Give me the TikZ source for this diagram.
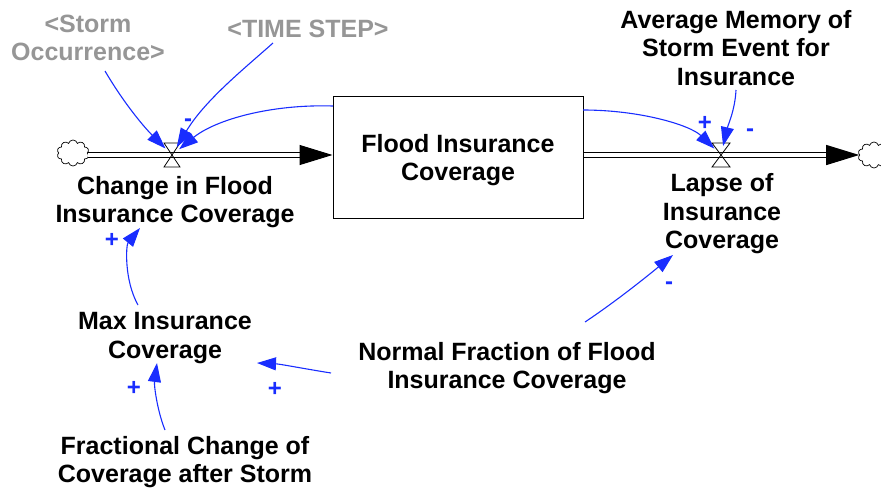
\documentclass[tikz,border=0pt]{standalone}
\usepackage{fontspec}
\setmainfont{Liberation Sans}
\usetikzlibrary{arrows.meta,shapes.symbols}
\definecolor{lnk}{RGB}{25,45,255}
\definecolor{ghost}{RGB}{150,150,150}
\begin{document}
\begin{tikzpicture}[x=1pt,y=-1pt,
  lbl/.style={font=\bfseries\fontsize{25}{28.5}\selectfont, align=center, inner sep=0pt},
  ghostlbl/.style={lbl, text=ghost},
  link/.style={draw=lnk, line width=1.1pt, -{Triangle[length=19pt,width=13pt]}},
  pol/.style={text=lnk, font=\bfseries\fontsize{24}{24}\selectfont, inner sep=0pt},
  pipe/.style={draw, line width=1.1pt, double=white, double distance=4pt},
  pipetip/.style={-{Triangle[length=33pt,width=20pt]}},
  valvept/.style={circle, minimum size=18pt, inner sep=0pt},
  valveshape/.style={draw, line width=0.8pt},
  cloudy/.style={cloud, cloud puffs=10, aspect=1.3, minimum width=32pt, minimum height=26pt, draw, line width=0.7pt, inner sep=0pt}
]
\useasboundingbox (0,0) rectangle (881,491);

% stock
\node[lbl, draw, line width=1pt, minimum width=250pt, minimum height=122pt] (stock) at (458,157) {};
\node[lbl] (stocktext) at (458,160) {Flood Insurance\\Coverage};

% valves and clouds
\node[valvept] (v1) at (172,155) {};
\node[valvept] (v2) at (721,155) {};
\node[cloudy] (cloudL) at (73,153) {};
\node[cloudy] (cloudR) at (874,155) {};

% flows
\draw[pipe, pipetip] (cloudL.east |- v1) -- (stock.west |- v1);
\draw[pipe, pipetip] (stock.east |- v2) -- (cloudR.west |- v2);
\draw[valveshape] (v1) +(-8,-12) -- +(8,-12) -- +(-8,12) -- +(8,12) -- cycle;
\draw[valveshape] (v2) +(-9,-12) -- +(9,-12) -- +(-9,12) -- +(9,12) -- cycle;

% labels
\node[lbl] (change) at (175,202) {Change in Flood\\Insurance Coverage};
\node[lbl] (lapse) at (722,214) {Lapse of\\Insurance\\Coverage};
\node[lbl] (avgmem) at (736,48) {Average Memory of\\Storm Event for\\Insurance};
\node[ghostlbl] (storm) at (88,38) {<Storm\\Occurrence>};
\node[ghostlbl] (timestep) at (308,29) {<TIME STEP>};
\node[lbl] (maxcov) at (165,338) {Max Insurance\\Coverage};
\node[lbl] (normal) at (507,368) {Normal Fraction of Flood\\Insurance Coverage};
\node[lbl] (fract) at (185,462) {Fractional Change of\\Coverage after Storm};

% connector end points next to nodes
\coordinate (s1) at (105,71);
\coordinate (s2) at (273,43);
\coordinate (s3) at (333,106);
\coordinate (s4) at (583,110);
\coordinate (s5) at (736,90);
\coordinate (s6) at (585,322);
\coordinate (e6) at (673,255);
\coordinate (s7) at (331,373);
\coordinate (e7) at (257,363);
\coordinate (s8) at (138,305);
\coordinate (e8) at (140,228);
\coordinate (s9) at (165,430);
\coordinate (e9) at (157,363);

% links
\draw[link] (s1) .. controls (125,105) and (145,128) .. (v1);
\draw[link] (s2) .. controls (245,68) and (205,100) .. (v1);
\draw[link] (s3) .. controls (270,104) and (215,120) .. (v1);
\draw[link] (s4) .. controls (640,110) and (690,125) .. (v2);
\draw[link] (s5) .. controls (735,110) and (728,125) .. (v2);
\draw[link] (s6) .. controls (615,302) and (645,278) .. (e6);
\draw[link] (s7) .. controls (300,368) and (280,364) .. (e7);
\draw[link] (s8) .. controls (124,280) and (126,245) .. (e8);
\draw[link] (s9) .. controls (157,410) and (154,385) .. (e9);

% polarities
\node[pol] at (188,123) {-};
\node[pol] at (705,123) {+};
\node[pol] at (750,133) {-};
\node[pol] at (669,286) {-};
\node[pol] at (112,240) {+};
\node[pol] at (134,388) {+};
\node[pol] at (275,389) {+};
\end{tikzpicture}
\end{document}
